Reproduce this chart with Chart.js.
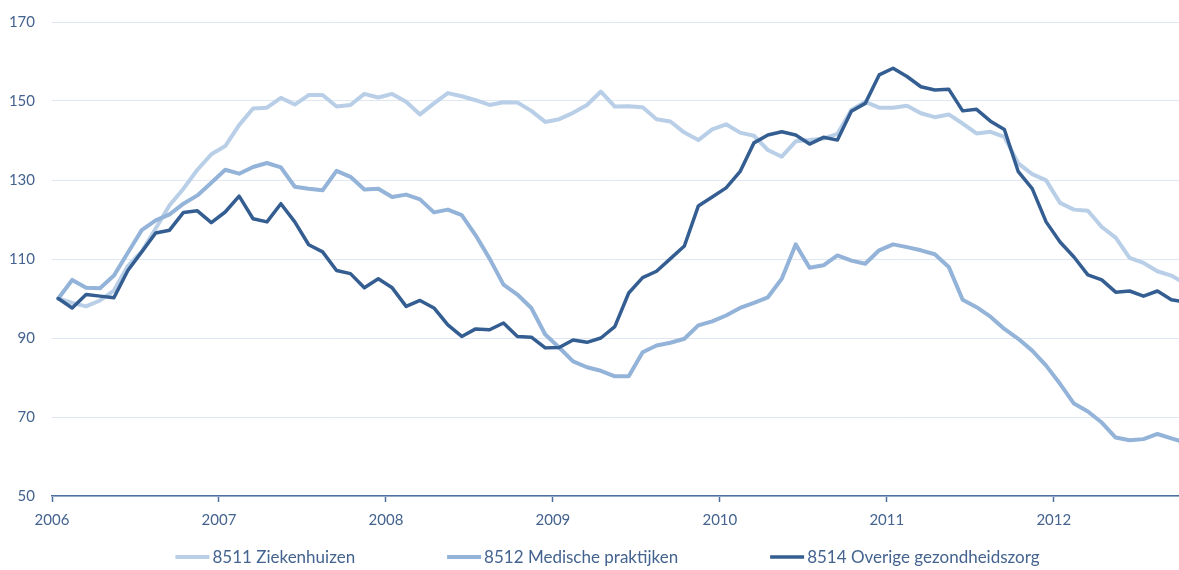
<!DOCTYPE html>
<html lang="nl">
<head>
    <meta charset="UTF-8">
    <title>Omzet gezondheidszorg</title>
    <script src="https://cdn.jsdelivr.net/npm/chart.js"></script>
    <style>
        html, body { margin: 0; padding: 0; background: #fff; }
        #chart-container { width: 1179px; height: 570px; position: relative; }
    </style>
</head>
<body>

<div id="chart-container">
    <canvas id="zorgChart"></canvas>
</div>

<script>
    // maandcijfers, index 2006 jan = 100
    const startJaar = 2006;
    const jaarTicks = [2006, 2007, 2008, 2009, 2010, 2011, 2012];

    const ziekenhuizen = [
        100.0, 98.9, 98.0, 99.5, 102.0, 108.2, 111.9, 117.7, 123.6, 127.8, 132.6, 136.5,
        138.6, 143.9, 148.1, 148.3, 150.8, 149.1, 151.5, 151.5, 148.6, 149.0, 151.8, 150.9,
        151.8, 149.8, 146.6, 149.4, 152.0, 151.2, 150.2, 149.0, 149.7, 149.6, 147.5, 144.7,
        145.4, 147.0, 149.0, 152.4, 148.6, 148.7, 148.4, 145.4, 144.8, 142.0, 140.1, 142.8,
        144.1, 142.0, 141.2, 137.6, 135.9, 139.8, 140.1, 140.5, 141.7, 147.7, 149.8, 148.3,
        148.3, 148.8, 146.9, 145.9, 146.6, 144.3, 141.8, 142.2, 140.9, 134.2, 131.5, 129.9,
        124.2, 122.5, 122.2, 118.1, 115.4, 110.3, 109.0, 106.9, 105.8, 103.8
    ];

    const medischePraktijken = [
        100.0, 104.7, 102.7, 102.6, 105.8, 111.6, 117.3, 119.8, 121.3, 124.0, 126.1, 129.3,
        132.6, 131.6, 133.3, 134.3, 133.2, 128.3, 127.8, 127.4, 132.3, 130.8, 127.6, 127.8,
        125.7, 126.3, 125.1, 121.8, 122.5, 121.1, 116.0, 110.1, 103.5, 101.0, 97.6, 90.9,
        87.6, 84.1, 82.6, 81.7, 80.3, 80.3, 86.4, 88.1, 88.8, 89.8, 93.2, 94.2,
        95.7, 97.6, 98.9, 100.3, 105.0, 113.7, 107.8, 108.4, 110.9, 109.6, 108.8, 112.2,
        113.7, 113.0, 112.2, 111.2, 108.0, 99.7, 97.8, 95.4, 92.3, 89.8, 86.8, 83.0,
        78.4, 73.4, 71.4, 68.6, 64.8, 64.1, 64.4, 65.7, 64.6, 63.5
    ];

    const overigeZorg = [
        100.0, 97.6, 101.0, 100.6, 100.2, 107.1, 111.8, 116.6, 117.3, 121.8, 122.2, 119.2,
        121.9, 125.9, 120.2, 119.4, 124.0, 119.4, 113.6, 111.8, 107.1, 106.3, 102.7, 105.0,
        102.7, 98.0, 99.5, 97.6, 93.3, 90.4, 92.3, 92.1, 93.8, 90.4, 90.2, 87.5,
        87.6, 89.5, 88.9, 90.0, 92.9, 101.4, 105.3, 106.9, 110.1, 113.3, 123.4, 125.7,
        128.0, 132.1, 139.4, 141.4, 142.2, 141.4, 139.1, 140.8, 140.1, 147.4, 149.4, 156.6,
        158.3, 156.2, 153.6, 152.8, 153.0, 147.5, 147.9, 144.9, 142.8, 132.1, 127.8, 119.4,
        114.3, 110.5, 106.0, 104.7, 101.6, 101.9, 100.6, 101.9, 99.7, 99.1
    ];

    const reeksNamen = ['8511 Ziekenhuizen', '8512 Medische praktijken', '8514 Overige gezondheidszorg'];

    // maand i ligt halverwege de maand (rond de 15e)
    function naarPunten(waarden) {
        return waarden.map((v, i) => ({ x: startJaar + (i + 0.45) / 12, y: v }));
    }

    const tekstKleur = '#44638f';
    const fontFamilie = 'Lato, "Open Sans", sans-serif';
    Chart.defaults.font.family = fontFamilie;
    Chart.defaults.font.size = 15;
    Chart.defaults.color = tekstKleur;

    // legenda zelf tekenen: Chart.js koppelt de ruimte tussen items aan de hoogte
    const onderLegenda = {
        id: 'onderLegenda',
        afterDraw(chart) {
            const c = chart.ctx;
            const lijnLengte = 34, tussen = 3, gat = 92;
            c.save();
            c.font = '17px ' + fontFamilie;
            c.textBaseline = 'middle';
            const items = chart.data.datasets.map(ds => ({
                ds, breedte: lijnLengte + tussen + c.measureText(ds.label).width
            }));
            const totaal = items.reduce((s, it) => s + it.breedte, 0) + gat * (items.length - 1);
            const midden = (chart.chartArea.left + chart.chartArea.right) / 2 - 8;
            let x = midden - totaal / 2;
            const y = chart.height - 13;
            items.forEach(it => {
                c.strokeStyle = it.ds.borderColor;
                c.lineWidth = it.ds.borderWidth;
                c.lineCap = 'butt';
                c.beginPath();
                c.moveTo(x, y);
                c.lineTo(x + lijnLengte, y);
                c.stroke();
                c.fillStyle = tekstKleur;
                c.fillText(it.ds.label, x + lijnLengte + tussen, y + 1);
                x += it.breedte + gat;
            });
            c.restore();
        }
    };

    const ctx = document.getElementById('zorgChart').getContext('2d');

    new Chart(ctx, {
        type: 'line',
        data: {
            datasets: [
                {
                    label: reeksNamen[0],
                    data: naarPunten(ziekenhuizen),
                    borderColor: '#b9cfe7',
                    backgroundColor: '#b9cfe7',
                    borderWidth: 4,
                    order: 2
                },
                {
                    label: reeksNamen[1],
                    data: naarPunten(medischePraktijken),
                    borderColor: '#93b3d9',
                    backgroundColor: '#93b3d9',
                    borderWidth: 4,
                    order: 1
                },
                {
                    label: reeksNamen[2],
                    data: naarPunten(overigeZorg),
                    borderColor: '#345e91',
                    backgroundColor: '#345e91',
                    borderWidth: 3.5,
                    order: 0
                }
            ]
        },
        options: {
            responsive: true,
            maintainAspectRatio: false,
            animation: false,
            elements: {
                point: { radius: 0, hoverRadius: 0 },
                line: { tension: 0, borderJoinStyle: 'round', borderCapStyle: 'round' }
            },
            layout: { padding: { top: 22, left: 0, right: 0, bottom: 32 } },
            plugins: {
                tooltip: { enabled: false },
                legend: { display: false }
            },
            scales: {
                x: {
                    type: 'linear',
                    min: startJaar,
                    max: 2012.75,
                    afterBuildTicks: (axis) => {
                        axis.ticks = jaarTicks.map(j => ({ value: j }));
                    },
                    ticks: {
                        callback: (v) => String(v),
                        padding: 9,
                        maxRotation: 0,
                        includeBounds: false
                    },
                    grid: {
                        drawOnChartArea: false,
                        tickLength: 6,
                        tickWidth: 1.5,
                        tickColor: '#4d6f9e'
                    },
                    border: { color: '#4d6f9e', width: 1.5 }
                },
                y: {
                    min: 50,
                    max: 170,
                    ticks: { stepSize: 20, padding: 17 },
                    grid: { color: '#dfe7f2', lineWidth: 1, drawTicks: false },
                    border: { display: false },
                    afterFit: (axis) => {
                        axis.width = 52;
                        axis.paddingTop = 0;
                        axis.paddingBottom = 0;
                    }
                }
            }
        },
        plugins: [onderLegenda]
    });
</script>

</body>
</html>
